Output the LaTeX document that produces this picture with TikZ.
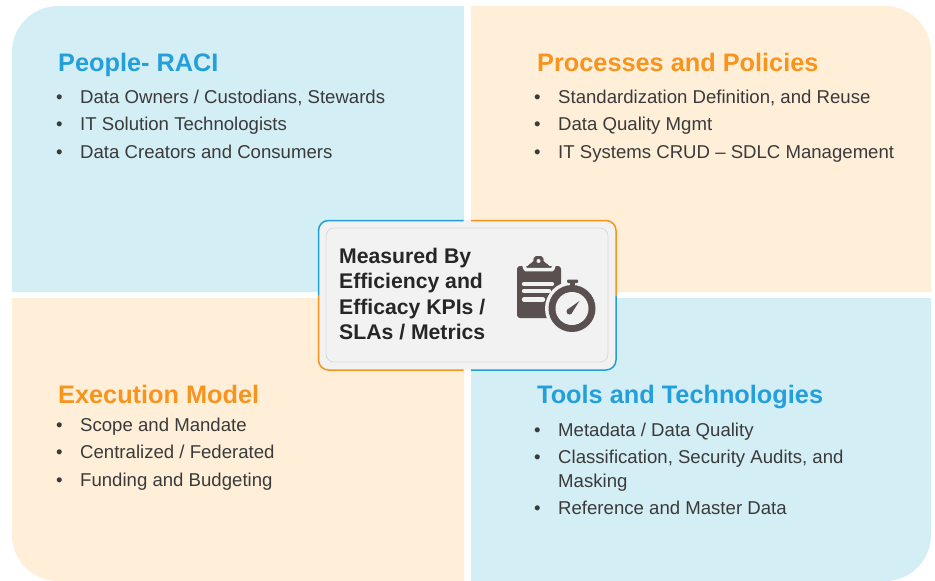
\documentclass[tikz,border=0pt]{standalone}
\usepackage{fontspec}
\setmainfont{Liberation Sans}
\definecolor{panelblue}{HTML}{D4EEF6}
\definecolor{panelorange}{HTML}{FFEFD9}
\definecolor{titleblue}{HTML}{239FDB}
\definecolor{titleorange}{HTML}{F7941D}
\definecolor{bodytext}{HTML}{3A3A3A}
\definecolor{boxfill}{HTML}{F2F2F2}
\definecolor{boxline}{HTML}{D9D9D9}
\definecolor{icondark}{HTML}{5A5050}
\tikzset{
  x=1pt,y=-1pt,
  paneltitle/.style={anchor=base west,inner sep=0pt,font=\fontsize{25.3}{30}\selectfont\bfseries},
  item/.style={anchor=base west,inner sep=0pt,text=bodytext,font=\fontsize{18.6}{22}\selectfont},
  dot/.style={anchor=base,inner sep=0pt,text=bodytext,font=\fontsize{18.6}{22}\selectfont},
  boxtext/.style={anchor=base west,inner sep=0pt,text=black!85,font=\fontsize{21.2}{25}\selectfont\bfseries},
  edge/.style={line width=1.5pt,rounded corners=10pt},
  iconpart/.style={fill=icondark,draw=none},
}
\newcommand{\leftitem}[3]{\node[dot] (#1d) at (59.5,#2) {•};\node[item] (#1) at (80,#2) {#3};}
\newcommand{\rightitem}[3]{\node[dot] (#1d) at (537.5,#2) {•};\node[item] (#1) at (558,#2) {#3};}
\begin{document}
\begin{tikzpicture}
\useasboundingbox (0,0) rectangle (935,581);
% panels
\fill[panelblue] (12,292) -- (464,292) -- (464,6) [rounded corners=46pt] -- (12,6) [sharp corners] -- (12,292) -- cycle;
\fill[panelorange] (471,292) -- (471,6) [rounded corners=46pt] -- (931,6) [sharp corners] -- (931,292) -- cycle;
\fill[panelorange] (464,298) -- (464,581) [rounded corners=46pt] -- (12,581) [sharp corners] -- (12,298) -- cycle;
\fill[panelblue] (471,298) -- (471,581) [rounded corners=46pt] -- (931,581) [sharp corners] -- (931,298) -- cycle;
% titles
\node[paneltitle,text=titleblue] (t1) at (58,71) {People- RACI};
\node[paneltitle,text=titleorange] (t2) at (537,71) {Processes and Policies};
\node[paneltitle,text=titleorange] (t3) at (58,403) {Execution Model};
\node[paneltitle,text=titleblue] (t4) at (537,403) {Tools and Technologies};
% items
\leftitem{a1}{103}{Data Owners / Custodians, Stewards}
\leftitem{a2}{130}{IT Solution Technologists}
\leftitem{a3}{158}{Data Creators and Consumers}
\leftitem{c1}{431}{Scope and Mandate}
\leftitem{c2}{458}{Centralized / Federated}
\leftitem{c3}{486}{Funding and Budgeting}
\rightitem{b1}{103}{Standardization Definition, and Reuse}
\rightitem{b2}{130}{Data Quality Mgmt}
\rightitem{b3}{158}{IT Systems CRUD – SDLC Management}
\rightitem{d1}{436}{Metadata / Data Quality}
\rightitem{d2}{463}{Classification, Security Audits, and}
\rightitem{d4}{514}{Reference and Master Data}
\node[item] (d3) at (558,487) {Masking};
% centre box
\node[fill=boxfill,minimum width=298pt,minimum height=150pt,rounded corners=10pt,inner sep=0pt] (outer) at (467,295) {};
\draw[edge,titleblue] (463.5,220.5) -- (318.5,220.5) -- (318.5,295.5);
\draw[edge,titleorange] (471,220.5) -- (616,220.5) -- (616,295.5);
\draw[edge,titleorange] (318.5,295.5) -- (318.5,370) -- (463.5,370);
\draw[edge,titleblue] (616,295.5) -- (616,370) -- (471,370);
\node[fill=boxfill,draw=boxline,line width=0.8pt,minimum width=282pt,minimum height=134pt,rounded corners=8pt,inner sep=0pt] (inner) at (467,295) {};
\node[boxtext] (m1) at (339,263.5) {Measured By};
\node[boxtext] (m2) at (339,288.5) {Efficiency and};
\node[boxtext] (m3) at (339,314) {Efficacy KPIs /};
\node[boxtext] (m4) at (339,339.5) {SLAs / Metrics};
% icon: clipboard
\fill[iconpart,rounded corners=3pt] (517,266) -- (561,266) -- (561,318) -- (517,318) -- cycle;
\draw[boxfill,line width=3.5pt,line cap=round,line join=round] (523,263) -- (525.5,269.5) -- (552.5,269.5) -- (555,263);
\fill[iconpart,rounded corners=2pt] (528,267) -- (528,264) -- (533,263) -- (534,256) -- (543,256) -- (544,263) -- (549,264) -- (549,267) -- cycle;
\fill[boxfill] (538.5,261) circle (2pt);
\foreach \xa/\xb/\ya in {524/552/284,524/549/291,524/543/299.5}
  \draw[boxfill,line width=4.4pt,line cap=round] (\xa,\ya) -- (\xb,\ya);
% icon: stopwatch
\fill[boxfill] (572,308.5) circle (27pt);
\fill[iconpart] (572,308.5) circle (23.5pt);
\fill[boxfill] (572,308.5) circle (16.5pt);
\fill[iconpart] (569.5,281) rectangle (574.5,287);
\fill[iconpart,rounded corners=1pt] (567,279.5) rectangle (578,283);
\fill[iconpart] (579.5,301) -- (567.5,309.5) -- (571.5,313.5) -- cycle;
\fill[iconpart] (569.5,311.5) circle (3pt);
\end{tikzpicture}
\end{document}
